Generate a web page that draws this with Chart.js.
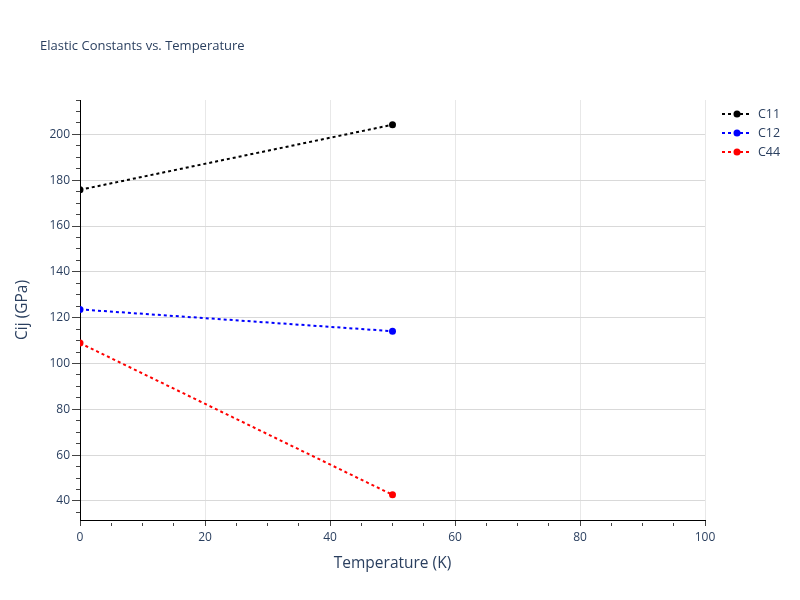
<!DOCTYPE html>
<html>
<head>
<meta charset="utf-8">
<script src="https://cdn.jsdelivr.net/npm/chart.js@4/dist/chart.umd.min.js"></script>
<style>
  html, body { margin: 0; padding: 0; background: #fff; }
  #wrap { width: 800px; height: 600px; }
</style>
</head>
<body>
<div id="wrap"><canvas id="elasticChart" width="800" height="600"></canvas></div>
<script>
const temperatures = [0, 50];
const c11 = [175.8, 204.2];
const c12 = [123.6, 114.1];
const c44 = [108.9, 42.7];
const seriesNames = ['C11', 'C12', 'C44'];
const seriesColors = ['#000000', '#0000ff', '#ff0000'];

const FONT = '"Open Sans", "Liberation Sans", Arial, sans-serif';
const TEXT = '#2a3f5f';

function toPoints(values) {
    return temperatures.map(function (t, i) { return { x: t, y: values[i] }; });
}

// major ticks every 20, minor ticks (shorter) every 5
function isMajor(c) {
    return c.tick && c.tick.value % 20 === 0;
}
function shortTick(len, full) {
    return {
        dash: function (c) { return isMajor(c) ? [] : [len, 200]; },
        offset: function (c) { return isMajor(c) ? 0 : 200 + len - (full - len); }
    };
}
const yMinor = shortTick(4, 8);
const xMinor = shortTick(4, 6);

// title + legend drawn like the plotly layout
const decorPlugin = {
    id: 'decor',
    afterDraw(chart) {
        const ctx = chart.ctx;
        ctx.save();
        ctx.fillStyle = TEXT;
        ctx.font = '13px ' + FONT;
        ctx.textBaseline = 'middle';
        ctx.textAlign = 'left';
        ctx.fillText('Elastic Constants vs. Temperature', 40, 46);

        chart.data.datasets.forEach(function (ds, i) {
            const y = 114 + i * 19;
            ctx.strokeStyle = ds.borderColor;
            ctx.lineWidth = 2;
            ctx.setLineDash([3, 3]);
            ctx.beginPath();
            ctx.moveTo(722, y);
            ctx.lineTo(751, y);
            ctx.stroke();
            ctx.setLineDash([]);
            ctx.fillStyle = ds.borderColor;
            ctx.beginPath();
            ctx.arc(737, y, 3.5, 0, Math.PI * 2);
            ctx.fill();
            ctx.fillStyle = TEXT;
            ctx.font = '12.5px ' + FONT;
            ctx.fillText(ds.label, 758, y);
        });
        ctx.restore();
    }
};

const ctx = document.getElementById('elasticChart');
new Chart(ctx, {
    type: 'line',
    data: {
        datasets: [c11, c12, c44].map(function (vals, i) {
            return {
                label: seriesNames[i],
                data: toPoints(vals),
                borderColor: seriesColors[i],
                backgroundColor: seriesColors[i],
                borderWidth: 2,
                borderDash: [3, 3],
                pointRadius: 3.5,
                pointBorderWidth: 0,
                fill: false,
                tension: 0
            };
        })
    },
    options: {
        responsive: false,
        animation: false,
        layout: { padding: { left: 0, top: 100, right: 95, bottom: 0 } },
        plugins: {
            legend: { display: false },
            title: { display: false },
            tooltip: { enabled: false }
        },
        scales: {
            x: {
                type: 'linear',
                min: 0,
                max: 100,
                afterFit: function (scale) { scale.height = 80; },
                border: { color: '#000', width: 1 },
                grid: {
                    color: function (c) { return isMajor(c) ? '#e8e8e8' : 'rgba(0,0,0,0)'; },
                    tickColor: '#444',
                    tickLength: 6,
                    tickBorderDash: xMinor.dash,
                    tickBorderDashOffset: xMinor.offset,
                    lineWidth: 1
                },
                ticks: {
                    stepSize: 5,
                    color: TEXT,
                    font: { size: 12, family: FONT },
                    padding: 4,
                    maxRotation: 0,
                    autoSkip: false,
                    callback: function (v) { return v % 20 === 0 ? v : ''; }
                },
                title: {
                    display: true,
                    text: 'Temperature (K)',
                    color: TEXT,
                    font: { size: 15.5, family: FONT },
                    padding: { top: 0, bottom: 27 }
                }
            },
            y: {
                type: 'linear',
                min: 31.7,
                max: 215,
                afterFit: function (scale) { scale.width = 80; },
                border: { color: '#000', width: 1 },
                grid: {
                    color: function (c) { return isMajor(c) ? '#d9d9d9' : 'rgba(0,0,0,0)'; },
                    tickColor: '#444',
                    tickLength: 8,
                    tickBorderDash: yMinor.dash,
                    tickBorderDashOffset: yMinor.offset,
                    lineWidth: 1
                },
                ticks: {
                    stepSize: 5,
                    includeBounds: false,
                    color: TEXT,
                    font: { size: 12, family: FONT },
                    padding: 2,
                    autoSkip: false,
                    callback: function (v) { return v % 20 === 0 ? v : ''; }
                },
                title: {
                    display: true,
                    text: 'Cij (GPa)',
                    color: TEXT,
                    font: { size: 15.5, family: FONT },
                    padding: { top: 13, bottom: 0 }
                }
            }
        }
    },
    plugins: [decorPlugin]
});
</script>
</body>
</html>
